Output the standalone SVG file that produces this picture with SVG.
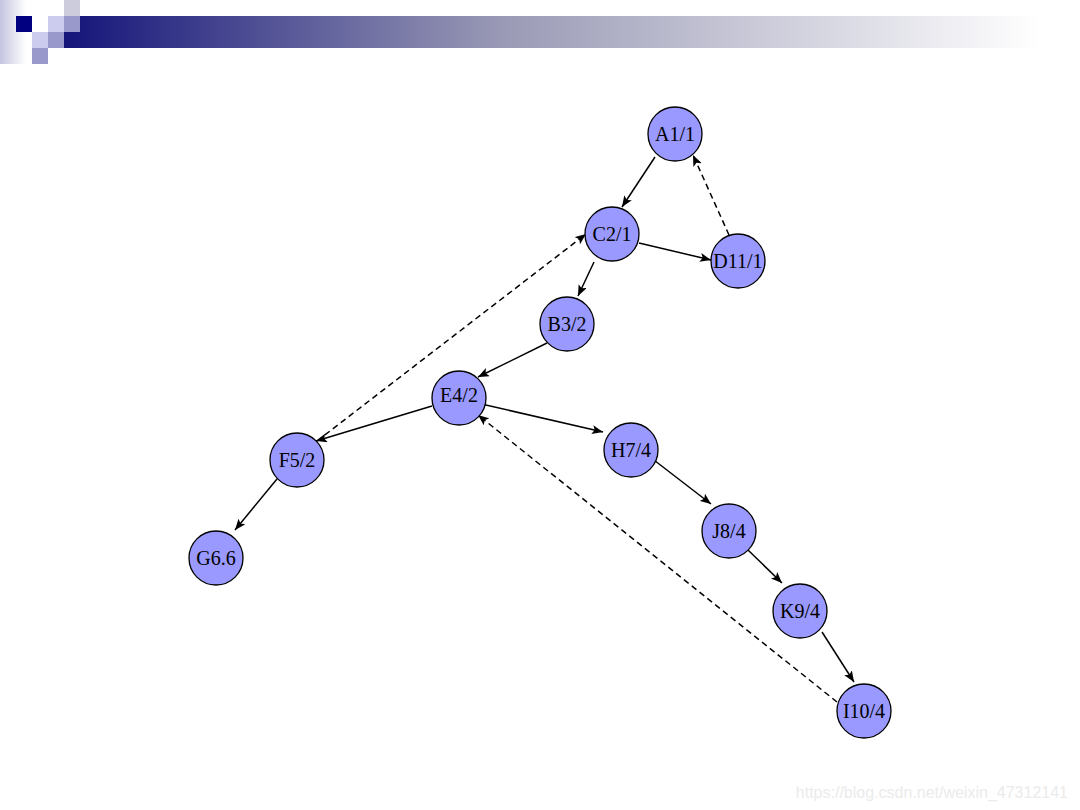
<svg xmlns="http://www.w3.org/2000/svg" width="1080" height="810" viewBox="0 0 1080 810">
<style>
.node circle{fill:#9999ff;stroke:#000;stroke-width:1.3}
.node text{font-family:"Liberation Serif","Times New Roman",serif;font-size:20px;fill:#000;text-anchor:middle}
.edge{stroke:#000;stroke-width:1.5;fill:none;marker-end:url(#arr)}
.dash{stroke-dasharray:6 4}
</style>
<defs>
<linearGradient id="bar" x1="0" y1="0" x2="1" y2="0">
<stop offset="0" stop-color="#14147a"/>
<stop offset="0.45" stop-color="#9a9ab6"/>
<stop offset="1" stop-color="#ffffff"/>
</linearGradient>
<linearGradient id="strip" x1="0" y1="0" x2="1" y2="0">
<stop offset="0" stop-color="#c4c4e0"/>
<stop offset="1" stop-color="#ffffff"/>
</linearGradient>
<marker id="arr" viewBox="0 0 11 9" refX="11" refY="4.5" markerWidth="11" markerHeight="9" markerUnits="userSpaceOnUse" orient="auto">
<path d="M0,0 L11,4.5 L0,9 L2.5,4.5 Z" fill="#000"/>
</marker>
</defs>
<g id="header">
<rect x="0" y="0" width="26" height="64" fill="url(#strip)"/>
<rect x="64" y="16" width="976" height="32" fill="url(#bar)"/>
<rect x="16" y="16" width="16" height="16" fill="#000080"/>
<rect x="48" y="16" width="16" height="16" fill="#ccccee"/>
<rect x="64" y="0" width="16" height="16" fill="#ccccdd"/>
<rect x="64" y="16" width="16" height="16" fill="#9999cc"/>
<rect x="32" y="32" width="16" height="16" fill="#ccccee"/>
<rect x="48" y="32" width="16" height="16" fill="#9999cc"/>
<rect x="32" y="48" width="16" height="16" fill="#9999cc"/>
</g>
<g id="connectors">
<line class="edge" x1="655" y1="157" x2="622" y2="207"/>
<line class="edge" x1="639" y1="243" x2="711" y2="260"/>
<line class="edge" x1="594" y1="262" x2="578" y2="296"/>
<line class="edge" x1="547" y1="343" x2="478" y2="377"/>
<line class="edge" x1="432" y1="406" x2="316" y2="441"/>
<line class="edge" x1="477" y1="403" x2="603" y2="432"/>
<line class="edge" x1="277" y1="479" x2="235" y2="530"/>
<line class="edge" x1="650" y1="457" x2="711" y2="504"/>
<line class="edge" x1="748" y1="550" x2="782" y2="583"/>
<line class="edge" x1="822" y1="632" x2="854" y2="682"/>
<line class="edge dash" x1="729" y1="235" x2="693" y2="155"/>
<line class="edge dash" x1="317" y1="441" x2="586" y2="234"/>
<line class="edge dash" x1="837" y1="702" x2="478" y2="415"/>
</g>
<g id="A" class="node"><circle cx="675" cy="134" r="27"/><text x="675" y="141">A1/1</text></g>
<g id="C" class="node"><circle cx="612" cy="234" r="27"/><text x="612" y="241">C2/1</text></g>
<g id="D" class="node"><circle cx="738" cy="261" r="27"/><text x="738" y="268">D11/1</text></g>
<g id="B" class="node"><circle cx="567" cy="324" r="27"/><text x="567" y="331">B3/2</text></g>
<g id="E" class="node"><circle cx="459" cy="398" r="27"/><text x="459" y="402">E4/2</text></g>
<g id="F" class="node"><circle cx="297" cy="460" r="27"/><text x="297" y="467">F5/2</text></g>
<g id="G" class="node"><circle cx="216" cy="558" r="27"/><text x="216" y="565">G6.6</text></g>
<g id="H" class="node"><circle cx="631" cy="450" r="27"/><text x="631" y="457">H7/4</text></g>
<g id="J" class="node"><circle cx="729" cy="531" r="27"/><text x="729" y="538">J8/4</text></g>
<g id="K" class="node"><circle cx="800" cy="611" r="27"/><text x="800" y="618">K9/4</text></g>
<g id="I" class="node"><circle cx="864" cy="711" r="27"/><text x="864" y="718">I10/4</text></g>
<text x="1068" y="798" text-anchor="end" font-family="Liberation Sans, Arial, sans-serif" font-size="16" fill="#ebebeb">https://blog.csdn.net/weixin_47312141</text>
</svg>
